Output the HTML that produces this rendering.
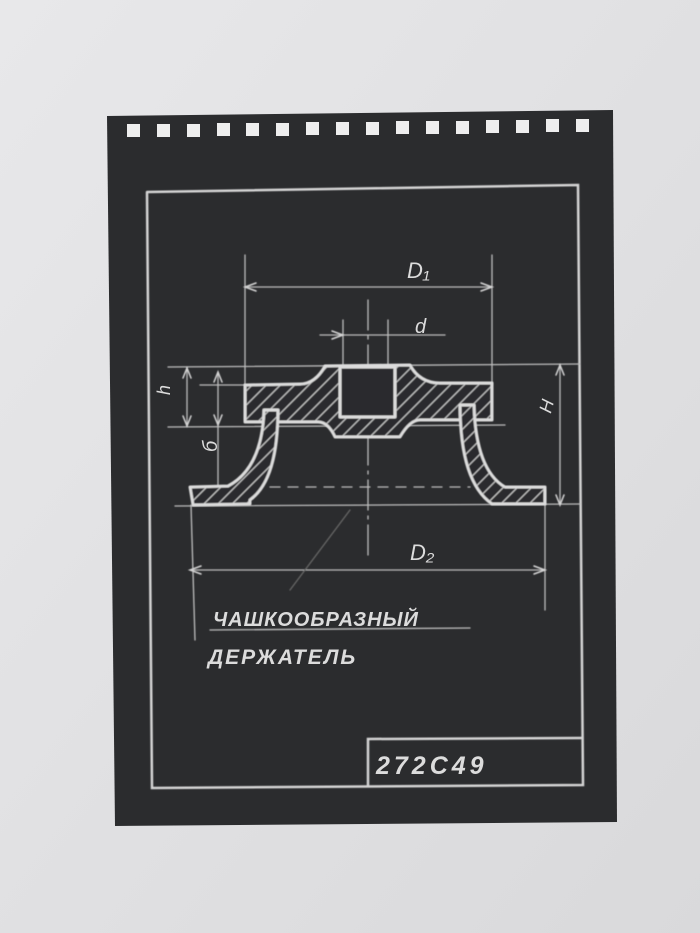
<!DOCTYPE html>
<html><head><meta charset="utf-8"><style>
html,body{margin:0;padding:0;width:700px;height:933px;overflow:hidden;background:#e3e3e5}
svg{display:block}
text{font-family:"Liberation Sans","DejaVu Sans",sans-serif;fill:#dcdcdc;font-style:italic}
</style></head><body>
<svg width="700" height="933" viewBox="0 0 700 933" xmlns="http://www.w3.org/2000/svg">
<defs>
<linearGradient id="bg" x1="0" y1="0" x2="1" y2="1"><stop offset="0" stop-color="#e8e8ea"/><stop offset="1" stop-color="#d9d9db"/></linearGradient>
<pattern id="hatch" width="10" height="10" patternUnits="userSpaceOnUse" patternTransform="rotate(45)"><rect width="10" height="10" fill="#2b2c2e"/><line x1="0" y1="0" x2="0" y2="10" stroke="#cfcfcf" stroke-width="2.2"/></pattern>
<filter id="ch"><feGaussianBlur stdDeviation="0.5"/></filter>
</defs>
<rect width="700" height="933" fill="url(#bg)"/>
<polygon points="107,116 613,110 617,822 115,826" fill="#2b2c2e"/>
<g fill="#eeeeee">
<rect x="127" y="124" width="13" height="13"/><rect x="157" y="124" width="13" height="13"/><rect x="187" y="124" width="13" height="13"/><rect x="217" y="123" width="13" height="13"/><rect x="246" y="123" width="13" height="13"/><rect x="276" y="123" width="13" height="13"/><rect x="306" y="122" width="13" height="13"/><rect x="336" y="122" width="13" height="13"/><rect x="366" y="122" width="13" height="13"/><rect x="396" y="121" width="13" height="13"/><rect x="426" y="121" width="13" height="13"/><rect x="456" y="121" width="13" height="13"/><rect x="486" y="120" width="13" height="13"/><rect x="516" y="120" width="13" height="13"/><rect x="546" y="119" width="13" height="13"/><rect x="576" y="119" width="13" height="13"/>
</g>
<g stroke="#d4d4d4" fill="none" stroke-width="2.5" filter="url(#ch)" stroke-linecap="round">
<polyline points="147,192 578,185 583,785 152,788 147,192"/>
<polyline points="368,785 368,739 581,738"/>
<g stroke-width="1.3" stroke="#bdbdbd">
<line x1="245" y1="255" x2="245" y2="420"/><line x1="492" y1="255" x2="492" y2="385"/>
<line x1="245" y1="287" x2="492" y2="287"/>
<line x1="320" y1="335" x2="445" y2="335"/>
<line x1="343" y1="320" x2="343" y2="365"/><line x1="388" y1="320" x2="388" y2="365"/>
<line x1="168" y1="367" x2="580" y2="364"/>
<line x1="200" y1="385" x2="245" y2="385"/>
<line x1="168" y1="427" x2="505" y2="425"/>
<line x1="175" y1="506" x2="580" y2="504"/>
<line x1="187" y1="368" x2="187" y2="426"/>
<line x1="218" y1="372" x2="218" y2="500"/>
<line x1="560" y1="365" x2="560" y2="505"/>
<line x1="191" y1="505" x2="195" y2="640"/><line x1="545" y1="490" x2="545" y2="610"/>
<line x1="190" y1="570" x2="545" y2="570"/>
<line x1="368" y1="300" x2="368" y2="560" stroke-dasharray="30 6 3 6"/>
<line x1="270" y1="487" x2="470" y2="487" stroke-dasharray="10 8"/>
<line x1="210" y1="630" x2="470" y2="628"/>
<line x1="350" y1="510" x2="290" y2="590" stroke="#666"/>
</g>
<g stroke-width="1.5">
<polyline points="256,283 245,287 256,291"/><polyline points="481,283 492,287 481,291"/>
<polyline points="332,331 343,335 332,339"/>
<polyline points="183,378 187,368 191,378"/><polyline points="183,416 187,426 191,416"/>
<polyline points="214,382 218,372 222,382"/><polyline points="214,415 218,425 222,415"/>
<polyline points="556,375 560,365 564,375"/><polyline points="556,495 560,505 564,495"/>
<polyline points="201,566 190,570 201,574"/><polyline points="534,566 545,570 534,574"/>
</g>
</g>
<g stroke="#dcdcdc" stroke-width="3" filter="url(#ch)" stroke-linejoin="round">
<path d="M245,385 L300,384 Q315,384 325,366 L410,365 Q420,383 440,383 L492,383 L492,420 L420,420 Q410,420 400,437 L335,437 Q328,422 318,422 L245,422 Z" fill="url(#hatch)"/>
<rect x="340" y="367" width="55" height="50" fill="#2b2c2e"/>
<path d="M264,410 L278,410 Q278,480 250,500 L250,504 L193,505 L190,487 L228,486 Q262,468 264,410 Z" fill="url(#hatch)"/>
<path d="M460,405 L474,405 Q476,470 505,487 L545,487 L545,504 L492,504 Q460,482 460,405 Z" fill="url(#hatch)"/>
</g>
<g font-size="22" font-weight="bold">
<text x="407" y="278" font-weight="normal">D₁</text>
<text x="415" y="333" font-size="20" font-weight="normal">d</text>
<text x="170" y="395" transform="rotate(-90 170 395)" font-size="18" font-weight="normal">h</text>
<text x="200" y="455" transform="rotate(-90 207 445)" font-size="20" font-weight="normal">б</text>
<text x="540" y="410" transform="rotate(-75 548 405)" font-size="18" font-weight="normal">H</text>
<text x="410" y="560" font-weight="normal">D₂</text>
<text x="213" y="626" font-size="20" letter-spacing="1">ЧАШКООБРАЗНЫЙ</text>
<text x="208" y="664" font-size="21" letter-spacing="2">ДЕРЖАТЕЛЬ</text>
<text x="376" y="774" font-size="25" letter-spacing="4">272С49</text>
</g>
</svg>
</body></html>
